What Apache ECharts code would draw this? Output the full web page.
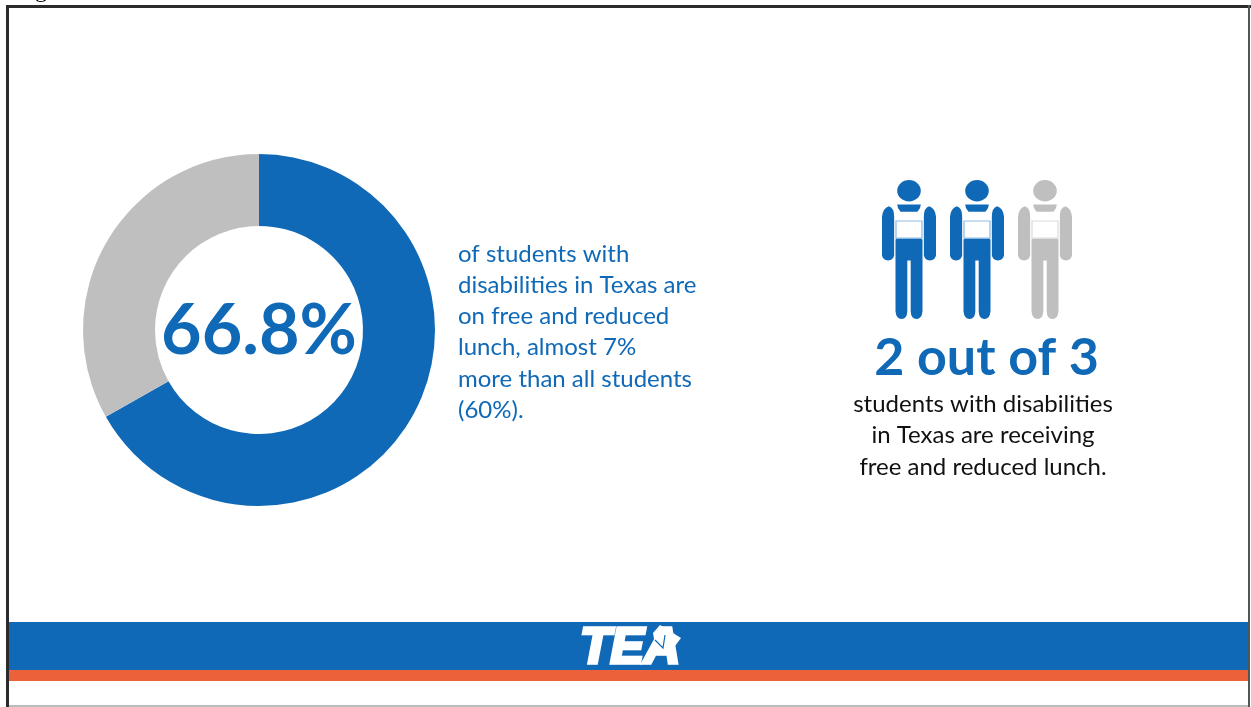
<!DOCTYPE html>
<html>
<head>
<meta charset="utf-8">
<style>html,body{margin:0;padding:0;background:#fff}#chart{width:1251px;height:707px}</style>
<script src="https://cdn.jsdelivr.net/npm/echarts@6/dist/echarts.min.js"></script>
</head>
<body>
<div id="chart"></div>
<script>
// Share of students with disabilities on free and reduced lunch
const shareLabels = ['Free and reduced lunch', 'Other'];
const shareValues = [66.8, 33.2];

// One figure per student in the "2 out of 3" pictogram
const figureSlots = ['first', 'second', 'third'];
const figureOnLunch = [1, 1, 0];

const descriptionLines = [
  'of students with',
  'disabilities in Texas are',
  'on free and reduced',
  'lunch, almost 7%',
  'more than all students',
  '(60%).'
];
const ratioHeadline = '2 out of 3';
const ratioLines = [
  'students with disabilities',
  'in Texas are receiving',
  'free and reduced lunch.'
];

const BLUE = '#0f69b7';
const GREY = '#bfbfbf';
const ORANGE = '#ec6139';
const FRAME = '#2b2b2b';
const FONT = 'Lato, "Noto Sans", sans-serif';

// Student silhouette with backpack: head, collar, two arms, torso and legs
const studentPath = 'path://' +
  'M80 0 a35 32 0 1 0 0.01 0 Z' +
  'M45 73 L115 73 Q115 85 105 95 L55 95 Q45 85 45 73 Z' +
  'M20 78 Q36 82 36 110 L36 225 Q34 240 18 240 Q2 240 0 225 L0 110 Q2 84 20 78 Z' +
  'M140 78 Q158 84 160 110 L160 225 Q158 240 142 240 Q126 240 124 225 L124 110 Q124 82 140 78 Z' +
  'M43 175 L117 175 Q120 175 120 180 L120 392 Q118 415 102 415 Q86 415 85 392 L85 240 L75 240 L75 392 Q74 415 58 415 Q42 415 40 392 L40 180 Q40 175 43 175 Z';

// Outline of the backpack, set over the torso
const packPath = 'path://M0 0 L78 0 L78 50 L0 50 Z';

const textLines = (lines, x, firstY, step, fill, size, align) =>
  lines.map((text, i) => ({
    type: 'text',
    z: 2,
    x,
    y: firstY + i * step,
    style: { text, fill, fontFamily: FONT, fontSize: size, textAlign: align, textVerticalAlign: 'middle' }
  }));

const chart = echarts.init(document.getElementById('chart'));
chart.setOption({
  animation: false,
  backgroundColor: '#fff',
  grid: { left: 875, top: 180, width: 204, height: 139 },
  xAxis: { type: 'category', data: figureSlots, show: false },
  yAxis: { type: 'value', min: 0, max: 1, show: false },
  series: [
    {
      type: 'pie',
      center: [259, 330],
      radius: [104, 176],
      startAngle: 90,
      clockwise: true,
      silent: true,
      labelLine: { show: false },
      data: [
        {
          name: shareLabels[0],
          value: shareValues[0],
          itemStyle: { color: BLUE },
          label: {
            show: true,
            position: 'center',
            formatter: '{c}%',
            color: BLUE,
            fontFamily: FONT,
            fontWeight: 'bold',
            fontSize: 70,
            offset: [0, 1]
          }
        },
        {
          name: shareLabels[1],
          value: shareValues[1],
          itemStyle: { color: GREY },
          label: { show: false }
        }
      ]
    },
    {
      type: 'scatter',
      silent: true,
      symbol: studentPath,
      symbolSize: [54, 139],
      data: figureOnLunch.map((on, i) => ({
        value: [i, 0.5],
        itemStyle: { color: on ? BLUE : GREY, opacity: 1 }
      }))
    },
    {
      type: 'scatter',
      silent: true,
      symbol: packPath,
      symbolSize: [26, 17],
      symbolOffset: [0, -20],
      z: 3,
      data: figureOnLunch.map((on, i) => ({
        value: [i, 0.5],
        itemStyle: { color: 'transparent', borderColor: on ? '#8fbce3' : '#dcdcdc', borderWidth: 1, opacity: 1 }
      }))
    }
  ],
  graphic: {
    elements: [
      // Slide frame
      { type: 'rect', z: 1, shape: { x: 6, y: 5, width: 1245, height: 3 }, style: { fill: FRAME } },
      { type: 'rect', z: 1, shape: { x: 6, y: 5, width: 3, height: 702 }, style: { fill: FRAME } },
      { type: 'rect', z: 1, shape: { x: 1248, y: 5, width: 2, height: 702 }, style: { fill: '#555' } },
      { type: 'rect', z: 1, shape: { x: 9, y: 705, width: 1239, height: 2 }, style: { fill: '#bbb' } },
      // Caption cut off above the slide
      { type: 'text', z: 1, x: 15, y: -21, style: { text: 'Figure', fill: '#000', fontFamily: '"Liberation Serif", serif', fontSize: 24 } },
      // Footer bands
      { type: 'rect', z: 1, shape: { x: 9, y: 622, width: 1239, height: 48 }, style: { fill: BLUE } },
      { type: 'rect', z: 1, shape: { x: 9, y: 670, width: 1239, height: 11 }, style: { fill: ORANGE } },
      // Wordmark with the raised peak and notch on the A
      { type: 'text', z: 2, x: 630, y: 649,
        style: { text: 'TEA', fill: '#fff', stroke: '#fff', lineWidth: 3.5, fontFamily: '"Liberation Sans", sans-serif',
          fontWeight: 'bold', fontStyle: 'italic', fontSize: 50, textAlign: 'center', textVerticalAlign: 'middle' } },
      { type: 'polygon', z: 3, shape: { points: [[653, 633], [660, 625], [681, 638], [672, 650], [656, 650]] }, style: { fill: '#fff' } },
      { type: 'polyline', z: 4, shape: { points: [[655, 640], [663, 648], [665, 635]] }, style: { stroke: BLUE, lineWidth: 1.2, fill: 'none' } },
      ...textLines(descriptionLines, 458, 254, 31.2, BLUE, 24, 'left'),
      { type: 'text', z: 2, x: 986.5, y: 358,
        style: { text: ratioHeadline, fill: BLUE, fontFamily: FONT, fontWeight: 'bold', fontSize: 52, textAlign: 'center', textVerticalAlign: 'middle' } },
      ...textLines(ratioLines, 983, 404, 31.5, '#111', 24, 'center')
    ]
  }
});
</script>
</body>
</html>
